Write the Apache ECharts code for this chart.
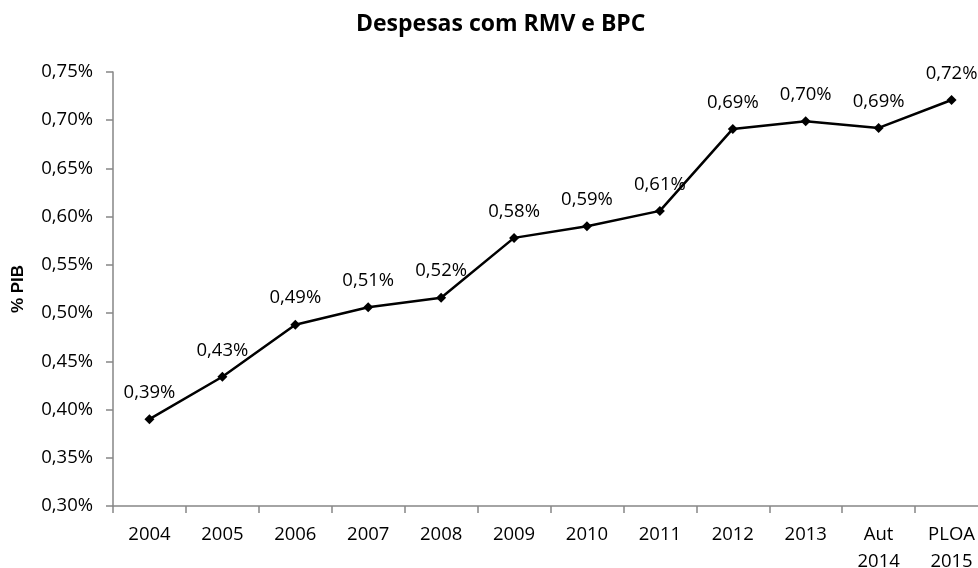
<!DOCTYPE html>
<html>
<head>
<meta charset="utf-8">
<script src="https://cdn.jsdelivr.net/npm/echarts@6/dist/echarts.min.js"></script>
<style>
html,body{margin:0;padding:0;background:#fff;}
#chart{width:978px;height:568px;}
</style>
</head>
<body>
<div id="chart"></div>
<script>
const chartTitle = 'Despesas com RMV e BPC';
const yAxisName = '% PIB';
const categories = ['2004','2005','2006','2007','2008','2009','2010','2011','2012','2013','Aut\n2014','PLOA\n2015'];
const values = [0.390, 0.434, 0.488, 0.506, 0.516, 0.578, 0.590, 0.606, 0.691, 0.699, 0.692, 0.721];
const yMin = 0.30, yMax = 0.75, yStep = 0.05;

const fmt = v => v.toFixed(2).replace('.', ',') + '%';
const FONT = 'Open Sans';

const chart = echarts.init(document.getElementById('chart'), null, {renderer:'canvas'});
chart.setOption({
  animation: false,
  backgroundColor: '#ffffff',
  title: {
    text: chartTitle,
    left: 351,
    top: 8,
    textStyle: {fontFamily: FONT, fontWeight: 'bold', fontSize: 23, color: '#000'}
  },
  grid: {left: 113, top: 72, width: 875, height: 434, containLabel: false, outerBoundsMode: 'none'},
  xAxis: {
    type: 'category',
    data: categories,
    boundaryGap: true,
    axisLine: {lineStyle: {color: '#868686', width: 1.5}},
    axisTick: {show: true, length: 7, inside: false, alignWithLabel: false, lineStyle: {color: '#868686', width: 1.5}},
    axisLabel: {fontFamily: FONT, fontSize: 18.5, color: '#000', margin: 15, lineHeight: 27, interval: 0},
    splitLine: {show: false}
  },
  yAxis: {
    type: 'value',
    min: yMin, max: yMax, interval: yStep,
    name: yAxisName,
    nameLocation: 'middle',
    nameGap: 86,
    nameTextStyle: {fontFamily: 'Liberation Sans', fontWeight: 'bold', fontSize: 17, color: '#000'},
    axisLine: {show: true, lineStyle: {color: '#868686', width: 1.5}},
    axisTick: {show: true, length: 7, inside: false, lineStyle: {color: '#868686', width: 1.5}},
    axisLabel: {fontFamily: FONT, fontSize: 18.5, color: '#000', margin: 20, formatter: fmt},
    splitLine: {show: false}
  },
  series: [{
    type: 'line',
    data: values,
    symbol: 'diamond',
    symbolSize: 10,
    showAllSymbol: true,
    lineStyle: {color: '#000', width: 2.5},
    itemStyle: {color: '#000'},
    label: {
      show: true, position: 'top', distance: 12,
      fontFamily: FONT, fontSize: 18.5, color: '#000',
      formatter: p => fmt(p.value)
    }
  }]
});
</script>
</body>
</html>
